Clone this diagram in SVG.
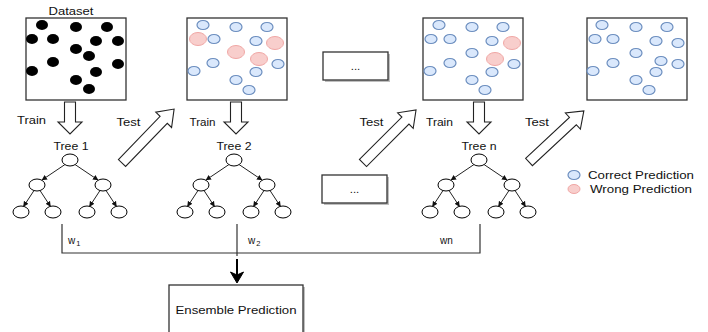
<svg xmlns="http://www.w3.org/2000/svg" xmlns:xlink="http://www.w3.org/1999/xlink" width="708" height="332" viewBox="0 0 708 332">
<style>
text{font-family:"Liberation Sans",Arial,Helvetica,sans-serif;font-size:11.5px;fill:#111}
.c{text-anchor:middle}
.box{fill:#fff;stroke:#333;stroke-width:1.3}
.sh{fill:#000;opacity:0.25}
.blk{fill:#000}
.blu{fill:#dae8fc;stroke:#6c8ebf;stroke-width:1.2}
.red{fill:#f8cecc;stroke:#f0a6a4;stroke-width:1}
.nd{fill:#fff;stroke:#000;stroke-width:1}
.ed{stroke:#222;stroke-width:1;fill:none;marker-end:url(#ah)}
.hol{fill:#fff;stroke:#222;stroke-width:1.1}
.ln{stroke:#333;stroke-width:1.2;fill:none}
.w{font-size:10px}
.sub{font-size:7.5px}
</style>
<defs>
<marker id="ah" markerWidth="6" markerHeight="6" refX="5" refY="3" orient="auto" markerUnits="userSpaceOnUse">
<path d="M0,0.3 L5.5,3 L0,5.7 Z" fill="#111"/>
</marker>
<g id="tree">
<line class="ed" x1="-5" y1="164.5" x2="-28" y2="180"/>
<line class="ed" x1="5" y1="164.5" x2="28" y2="180"/>
<line class="ed" x1="-36" y1="190.5" x2="-46.5" y2="206.5"/>
<line class="ed" x1="-30" y1="190.5" x2="-19.5" y2="206.5"/>
<line class="ed" x1="30" y1="190.5" x2="19.5" y2="206.5"/>
<line class="ed" x1="36" y1="190.5" x2="46.5" y2="206.5"/>
<ellipse class="nd" cx="0" cy="160" rx="8" ry="6"/>
<ellipse class="nd" cx="-33" cy="185" rx="8" ry="6"/>
<ellipse class="nd" cx="33" cy="185" rx="8" ry="6"/>
<ellipse class="nd" cx="-49" cy="212" rx="8" ry="6"/>
<ellipse class="nd" cx="-17" cy="212" rx="8" ry="6"/>
<ellipse class="nd" cx="17" cy="212" rx="8" ry="6"/>
<ellipse class="nd" cx="49" cy="212" rx="8" ry="6"/>
</g>
<path id="down" class="hol" d="M-5.5,102 L5.5,102 L5.5,122 L12,122 L0,134 L-12,122 L-5.5,122 Z"/>
<path id="diag" class="hol" d="M0,-5 L60,-5 L60,-11 L75,0 L60,11 L60,5 L0,5 Z"/>
</defs>

<!-- Dataset box -->
<g id="dataset">
<text class="c" x="71" y="15" textLength="45" lengthAdjust="spacingAndGlyphs">Dataset</text>
<rect class="box" x="26" y="18" width="100" height="82"/>
<ellipse class="blk" cx="42" cy="25" rx="6" ry="5"/>
<ellipse class="blk" cx="76" cy="27" rx="6" ry="5"/>
<ellipse class="blk" cx="107" cy="27" rx="6" ry="5"/>
<ellipse class="blk" cx="32" cy="39" rx="6" ry="5"/>
<ellipse class="blk" cx="53" cy="39" rx="6" ry="5"/>
<ellipse class="blk" cx="96" cy="41" rx="6" ry="5"/>
<ellipse class="blk" cx="118" cy="41" rx="6" ry="5"/>
<ellipse class="blk" cx="76" cy="49" rx="6" ry="5"/>
<ellipse class="blk" cx="89" cy="56" rx="6" ry="5"/>
<ellipse class="blk" cx="53" cy="62" rx="6" ry="5"/>
<ellipse class="blk" cx="118" cy="64" rx="6" ry="5"/>
<ellipse class="blk" cx="32" cy="71" rx="6" ry="5"/>
<ellipse class="blk" cx="96" cy="72" rx="6" ry="5"/>
<ellipse class="blk" cx="76" cy="80" rx="6" ry="5"/>
<ellipse class="blk" cx="89" cy="89" rx="6" ry="5"/>
</g>

<!-- Result box 2 -->
<g id="result2">
<rect class="box" x="187" y="18" width="100" height="82"/>
<ellipse class="blu" cx="203" cy="25" rx="6" ry="4.5"/>
<ellipse class="blu" cx="236" cy="27" rx="6" ry="4.5"/>
<ellipse class="blu" cx="267" cy="27" rx="6" ry="4.5"/>
<ellipse class="red" cx="198" cy="39" rx="8.5" ry="6.5"/>
<ellipse class="blu" cx="214" cy="39" rx="6" ry="4.5"/>
<ellipse class="blu" cx="256" cy="41" rx="6" ry="4.5"/>
<ellipse class="red" cx="275" cy="43" rx="8.5" ry="6.5"/>
<ellipse class="red" cx="236" cy="52" rx="8.5" ry="6.5"/>
<ellipse class="red" cx="259" cy="59" rx="8.5" ry="6.5"/>
<ellipse class="blu" cx="213" cy="63" rx="6" ry="4.5"/>
<ellipse class="blu" cx="278" cy="64" rx="6" ry="4.5"/>
<ellipse class="blu" cx="194" cy="71" rx="6" ry="4.5"/>
<ellipse class="blu" cx="256" cy="72" rx="6" ry="4.5"/>
<ellipse class="blu" cx="236" cy="80" rx="6" ry="4.5"/>
<ellipse class="blu" cx="249" cy="90" rx="6" ry="4.5"/>
</g>

<!-- Ellipsis boxes -->
<g id="dots1">
<rect class="sh" x="325" y="54" width="65" height="28"/>
<rect class="box" x="323" y="52" width="65" height="28" stroke-width="1"/>
<text class="c" x="355.5" y="70" font-size="10">...</text>
</g>
<g id="dots2">
<rect class="sh" x="324" y="177" width="65" height="28"/>
<rect class="box" x="322" y="175" width="65" height="28" stroke-width="1"/>
<text class="c" x="354.5" y="193" font-size="10">...</text>
</g>

<!-- Result box 3 -->
<g id="result3">
<rect class="box" x="423" y="18" width="100" height="82"/>
<ellipse class="blu" cx="439" cy="25" rx="6" ry="4.5"/>
<ellipse class="blu" cx="472" cy="27" rx="6" ry="4.5"/>
<ellipse class="blu" cx="503" cy="27" rx="6" ry="4.5"/>
<ellipse class="blu" cx="431" cy="39" rx="6" ry="4.5"/>
<ellipse class="blu" cx="450" cy="39" rx="6" ry="4.5"/>
<ellipse class="blu" cx="492" cy="41" rx="6" ry="4.5"/>
<ellipse class="red" cx="512" cy="43" rx="8.5" ry="6.5"/>
<ellipse class="blu" cx="472" cy="53" rx="6" ry="4.5"/>
<ellipse class="red" cx="495" cy="59" rx="8.5" ry="6.5"/>
<ellipse class="blu" cx="450" cy="63" rx="6" ry="4.5"/>
<ellipse class="blu" cx="514" cy="64" rx="6" ry="4.5"/>
<ellipse class="blu" cx="430" cy="71" rx="6" ry="4.5"/>
<ellipse class="blu" cx="492" cy="72" rx="6" ry="4.5"/>
<ellipse class="blu" cx="472" cy="80" rx="6" ry="4.5"/>
<ellipse class="blu" cx="485" cy="90" rx="6" ry="4.5"/>
</g>

<!-- Result box 4 -->
<g id="result4">
<rect class="box" x="587" y="18" width="100" height="82"/>
<ellipse class="blu" cx="602" cy="25" rx="6" ry="4.5"/>
<ellipse class="blu" cx="636" cy="27" rx="6" ry="4.5"/>
<ellipse class="blu" cx="667" cy="27" rx="6" ry="4.5"/>
<ellipse class="blu" cx="595" cy="39" rx="6" ry="4.5"/>
<ellipse class="blu" cx="613" cy="39" rx="6" ry="4.5"/>
<ellipse class="blu" cx="656" cy="41" rx="6" ry="4.5"/>
<ellipse class="blu" cx="678" cy="43" rx="6" ry="4.5"/>
<ellipse class="blu" cx="636" cy="53" rx="6" ry="4.5"/>
<ellipse class="blu" cx="661" cy="61" rx="6" ry="4.5"/>
<ellipse class="blu" cx="613" cy="63" rx="6" ry="4.5"/>
<ellipse class="blu" cx="678" cy="64" rx="6" ry="4.5"/>
<ellipse class="blu" cx="593" cy="71" rx="6" ry="4.5"/>
<ellipse class="blu" cx="656" cy="72" rx="6" ry="4.5"/>
<ellipse class="blu" cx="636" cy="80" rx="6" ry="4.5"/>
<ellipse class="blu" cx="649" cy="90" rx="6" ry="4.5"/>
</g>

<!-- Trees -->
<g id="tree1">
<text class="c" x="71" y="150" textLength="35" lengthAdjust="spacingAndGlyphs">Tree 1</text>
<use xlink:href="#tree" transform="translate(70,0)"/>
</g>
<g id="tree2">
<text class="c" x="234" y="150" textLength="35" lengthAdjust="spacingAndGlyphs">Tree 2</text>
<use xlink:href="#tree" transform="translate(234,0)"/>
</g>
<g id="treen">
<text class="c" x="479" y="150" textLength="35" lengthAdjust="spacingAndGlyphs">Tree n</text>
<use xlink:href="#tree" transform="translate(479,0)"/>
</g>

<!-- Legend -->
<g id="legend">
<ellipse class="blu" cx="574" cy="175" rx="6" ry="4.5"/>
<text x="588" y="179" textLength="106" lengthAdjust="spacingAndGlyphs">Correct Prediction</text>
<ellipse class="red" cx="574" cy="189" rx="6" ry="4.5"/>
<text x="590" y="193" textLength="102" lengthAdjust="spacingAndGlyphs">Wrong Prediction</text>
</g>

<!-- Ensemble -->
<g id="ensemble">
<rect class="sh" x="171" y="287" width="134" height="60"/>
<rect class="box" x="169" y="285" width="134" height="60" stroke-width="1"/>
<text class="c" x="236" y="314" textLength="121" lengthAdjust="spacingAndGlyphs">Ensemble Prediction</text>
</g>

<!-- Connectors -->
<g id="connectors">
<use xlink:href="#down" transform="translate(70,0)"/>
<use xlink:href="#down" transform="translate(236,0)"/>
<use xlink:href="#down" transform="translate(479,0)"/>
<use xlink:href="#diag" transform="translate(122,163) rotate(-46)"/>
<use xlink:href="#diag" transform="translate(363,163) rotate(-45)"/>
<use xlink:href="#diag" transform="translate(529,162) rotate(-43)"/>
<text class="c" x="31.5" y="124" textLength="29" lengthAdjust="spacingAndGlyphs">Train</text>
<text class="c" x="128.5" y="126" textLength="24" lengthAdjust="spacingAndGlyphs">Test</text>
<text class="c" x="202.5" y="126" textLength="26" lengthAdjust="spacingAndGlyphs">Train</text>
<text class="c" x="371.5" y="126" textLength="24" lengthAdjust="spacingAndGlyphs">Test</text>
<text class="c" x="439.5" y="126" textLength="27" lengthAdjust="spacingAndGlyphs">Train</text>
<text class="c" x="537" y="126" textLength="24" lengthAdjust="spacingAndGlyphs">Test</text>
<polyline class="ln" points="62,224 62,253 480,253 480,224"/>
<line class="ln" x1="237" y1="224" x2="237" y2="256"/>
<line x1="237" y1="259" x2="237" y2="276" stroke="#000" stroke-width="2"/>
<path d="M230.5,272 L237,283 L243.5,272 L237,275 Z" fill="#000" stroke="#000" stroke-width="1"/>
<text class="w" x="68" y="244">w<tspan class="sub" dx="1" dy="2">1</tspan></text>
<text class="w" x="248" y="244">w<tspan class="sub" dx="1" dy="2">2</tspan></text>
<text class="w" x="440" y="244">wn</text>
</g>
</svg>
